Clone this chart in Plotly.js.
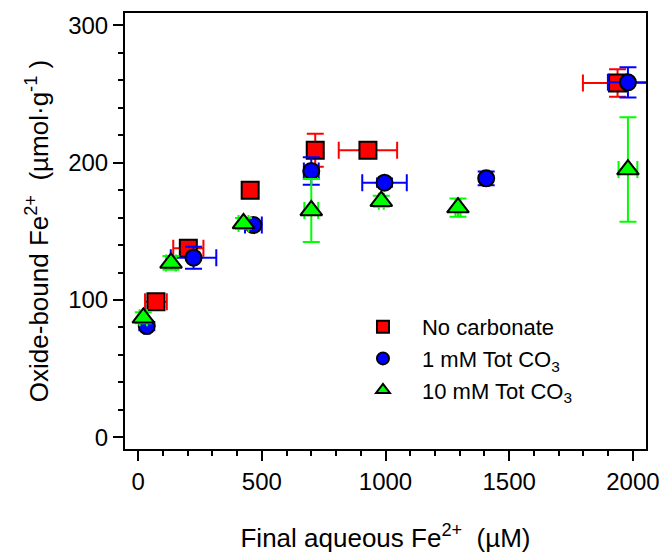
<!DOCTYPE html>
<html>
<head>
<meta charset="utf-8">
<script src="https://cdn.plot.ly/plotly-3.0.1.min.js"></script>
<style>html,body{margin:0;padding:0;background:#fff;}#chart{width:665px;height:553px;}</style>
</head>
<body>
<div id="chart"></div>
<script>
// No carbonate
const noCarbX = [72, 203, 453, 716, 929, 1938];
const noCarbY = [98.7, 137.6, 180, 209, 209, 258];
const noCarbXErr = [44, 61, 8, 10, 118, 140];
const noCarbYErr = [3, 3, 3, 12, 3, 10];
// 1 mM Tot CO3
const co1X = [35, 224, 466, 700, 996, 1407, 1980];
const co1Y = [81, 130.8, 154.6, 194, 185.4, 188.6, 258.5];
const co1XErr = [10, 92, 34, 30, 90, 10, 81];
const co1YErr = [3, 8, 3, 10, 3, 5, 11];
// 10 mM Tot CO3
const co10X = [21, 133, 426, 700, 983, 1293, 1980];
const co10Y = [87, 127, 155.8, 165.2, 172, 167.3, 195];
const co10XErr = [15, 20, 20, 28, 10, 10, 38];
const co10YErr = [4, 5, 4, 23, 4, 6.7, 38];

const names = ["No carbonate", "1 mM Tot CO<sub>3</sub>", "10 mM Tot CO<sub>3</sub>"];

function trace(x, y, xe, ye, name, color, symbol, size) {
  return {
    type: 'scatter', mode: 'markers', x: x, y: y, name: name,
    marker: {color: color, symbol: symbol, size: size, line: {color: '#000', width: 2}},
    error_x: {type: 'data', array: xe, visible: true, color: color, thickness: 2, width: 8.5},
    error_y: {type: 'data', array: ye, visible: true, color: color, thickness: 2, width: 8.5},
    cliponaxis: false
  };
}

const data = [
  trace(noCarbX, noCarbY, noCarbXErr, noCarbYErr, names[0], '#ff0000', 'square', 17),
  trace(co1X, co1Y, co1XErr, co1YErr, names[1], '#0000ff', 'circle', 16),
  trace(co10X, co10Y, co10XErr, co10YErr, names[2], '#00ff00', 'triangle-up', 19)
];

const font = 'Liberation Sans, Arial, Helvetica, sans-serif';
const nb = '\u00a0';
const layout = {
  width: 665, height: 553,
  margin: {l: 125, r: 19, t: 13, b: 104},
  paper_bgcolor: '#fff', plot_bgcolor: '#fff',
  font: {family: font, color: '#000', size: 24},
  showlegend: true,
  legend: {x: 0.4203, y: 0.328, xanchor: 'left', yanchor: 'top', bgcolor: 'rgba(0,0,0,0)',
           font: {family: font, size: 22, color: '#000'}, itemwidth: 68, itemsizing: 'constant', tracegroupgap: 0},
  xaxis: {
    range: [-53, 2053], showgrid: false, zeroline: false,
    showline: true, linecolor: '#000', linewidth: 2, mirror: true,
    ticks: 'outside', ticklen: 10, tickwidth: 2, tickcolor: '#000', dtick: 500, tick0: 0,
    tickfont: {size: 24, family: font},
    minor: {dtick: 100, tick0: 0, ticks: 'outside', ticklen: 5, tickwidth: 2, tickcolor: '#000', showgrid: false},
    title: {text: 'Final aqueous Fe<sup>2+</sup>' + nb + nb + '(µM)', font: {size: 26, family: font}, standoff: 35}
  },
  yaxis: {
    range: [-8.5, 309], showgrid: false, zeroline: false,
    showline: true, linecolor: '#000', linewidth: 2, mirror: true,
    ticks: 'outside', ticklen: 10, tickwidth: 2, tickcolor: '#000', dtick: 100, tick0: 0,
    tickfont: {size: 24, family: font},
    minor: {dtick: 20, tick0: 0, ticks: 'outside', ticklen: 5, tickwidth: 2, tickcolor: '#000', showgrid: false},
    title: {text: 'Oxide-bound Fe<sup>2+</sup>' + nb + nb + '(µmol·g<sup>-1</sup>' + nb + ')', font: {size: 26, family: font}, standoff: 12}
  }
};

Plotly.newPlot('chart', data, layout, {displayModeBar: false, staticPlot: true});
</script>
</body>
</html>
